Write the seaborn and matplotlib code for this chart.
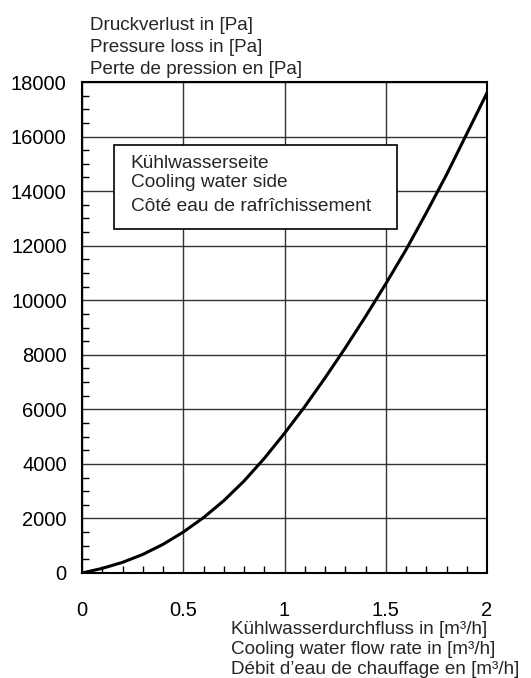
import numpy as np
import pandas as pd
import matplotlib.pyplot as plt
import seaborn as sns
from matplotlib.ticker import MultipleLocator, FixedLocator

# ---- data ----
flow = [0.0, 0.1, 0.2, 0.3, 0.4, 0.5, 0.6, 0.7, 0.8, 0.9, 1.0,
        1.1, 1.2, 1.3, 1.4, 1.5, 1.6, 1.7, 1.8, 1.9, 2.0]
pressure = [0, 170, 390, 680, 1050, 1500, 2030, 2650, 3370, 4200, 5120,
            6100, 7150, 8250, 9400, 10600, 11850, 13200, 14600, 16100, 17600]

x_ticks = [0, 0.5, 1, 1.5, 2]
x_tick_labels = ["0", "0.5", "1", "1.5", "2"]
y_ticks = [0, 2000, 4000, 6000, 8000, 10000, 12000, 14000, 16000, 18000]

y_label_lines = ["Druckverlust in [Pa]", "Pressure loss in [Pa]", "Perte de pression en [Pa]"]
x_label_lines = ["Kühlwasserdurchfluss in [m³/h]", "Cooling water flow rate in [m³/h]",
                 "Débit d\u2019eau de chauffage en [m³/h]"]
box_lines = ["Kühlwasserseite", "Cooling water side", "Côté eau de rafrîchissement"]

df = pd.DataFrame({"flow": flow, "pressure": pressure})

# ---- style ----
sns.set_style("ticks")
plt.rcParams['font.family'] = ['Liberation Sans', 'DejaVu Sans']
FS_TICK = 14.5
FS_TEXT = 13.6
FS_BOX = 13.8

W, H = 531, 678
fig = plt.figure(figsize=(W / 100, H / 100), dpi=100)
ax = fig.add_axes([82 / W, (H - 573) / H, 405 / W, 491 / H])

sns.lineplot(data=df, x="flow", y="pressure", ax=ax, color="black", linewidth=2.2)

ax.set_xlim(0, 2)
ax.set_ylim(0, 18000)
ax.xaxis.set_major_locator(FixedLocator(x_ticks))
ax.set_xticklabels(x_tick_labels)
ax.yaxis.set_major_locator(FixedLocator(y_ticks))
ax.xaxis.set_minor_locator(MultipleLocator(0.1))
ax.yaxis.set_minor_locator(MultipleLocator(500))
ax.grid(True, which="major", color="#333333", linewidth=1.0)
ax.tick_params(which="both", direction="in", colors="black", labelsize=FS_TICK)
ax.tick_params(axis="x", which="major", length=0, pad=20)
ax.tick_params(axis="y", which="major", length=0, pad=11)
ax.tick_params(which="minor", length=5, width=1)
ax.set_xlabel("")
ax.set_ylabel("")
for s in ax.spines.values():
    s.set_linewidth(1.5)
    s.set_color("black")

# legend-like box
box = plt.Rectangle((0.158, 12600), 1.556 - 0.158, 15700 - 12600,
                    facecolor="white", edgecolor="black", linewidth=1.2, zorder=3)
ax.add_patch(box)
for yy, t in zip([15000, 14300, 13450], box_lines):
    ax.text(0.24, yy, t, fontsize=FS_BOX, va="center", ha="left", zorder=4)

# axis titles
for yc, t in zip([25, 47, 69], y_label_lines):
    fig.text(90 / W, 1 - yc / H, t, fontsize=FS_TEXT, va="center", ha="left")
for yc, t in zip([629, 649, 669], x_label_lines):
    fig.text(231 / W, 1 - yc / H, t, fontsize=FS_TEXT, va="center", ha="left")

fig.savefig("out.png", dpi=100, facecolor="white")
